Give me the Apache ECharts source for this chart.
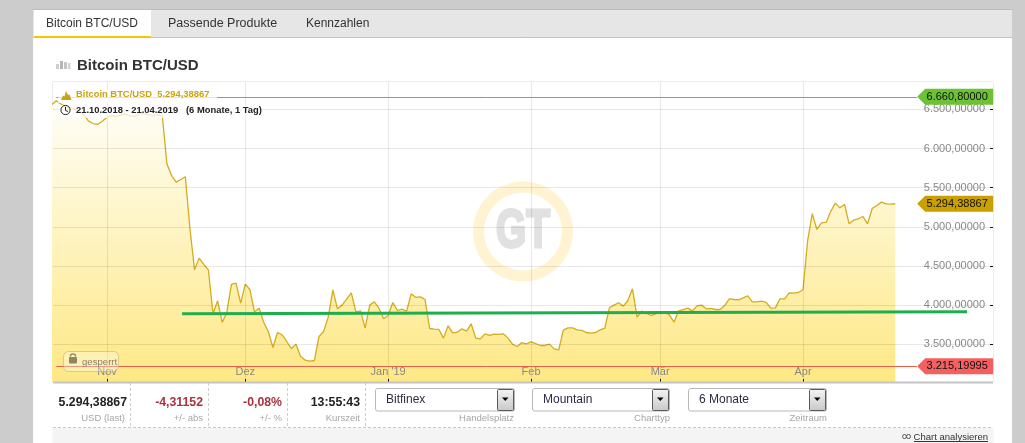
<!DOCTYPE html>
<html><head><meta charset="utf-8"><title>Bitcoin BTC/USD</title>
<script src="https://cdn.jsdelivr.net/npm/echarts@6/dist/echarts.min.js"></script>
<style>html,body{margin:0;padding:0;background:#cccccc;overflow:hidden}#c{width:1025px;height:443px}</style>
</head><body><div id="c"></div>
<script>
// ---- data -----------------------------------------------------------
const firstDay = Date.UTC(2018, 9, 20);
const btcValues = [6560,6610,6570,6540,6520,6500,6480,6430,6350,6320,6310,6350,6400,6420,6410,6430,6440,6420,6410,6440,6450,6430,6420,6430,6420,
5805,5656,5571,5605,5639,4974,4449,4599,4518,4449,3887,4053,3776,3908,4262,4279,4023,4266,4198,3912,3959,3780,3661,3456,3648,3618,3533,3443,3499,3345,3294,3281,3290,3597,3661,3844,4194,3951,3998,4074,4155,3912,3925,3703,3998,4040,3959,3823,3865,4032,3929,3946,3921,4142,4096,4104,4070,3699,
3691,3687,3576,3733,3644,3652,3695,3665,3759,3576,3567,3631,3610,3627,3623,3631,3576,3495,3469,3520,3503,3529,3507,3482,3482,3499,3439,3427,3678,3708,3708,3682,3674,3648,3640,3648,3682,3704,3964,3998,4028,3985,4057,
4206,3844,3921,3895,3865,3887,3908,3904,3874,3780,3925,3942,3959,3925,3989,3998,3951,3955,3942,3942,3993,4079,4070,4066,4091,4117,4040,4040,4049,4032,3959,3963,4079,4079,4155,4151,4160,4194,4825,5166,4965,5050,5055,5195,5302,5242,5285,5038,5085,5102,5131,5038,5234,5272,5315,5293,5289,5294];
const monthTickDates = [Date.UTC(2018,10,1),Date.UTC(2018,11,1),Date.UTC(2019,0,1),Date.UTC(2019,1,1),Date.UTC(2019,2,1),Date.UTC(2019,3,1)];
const monthTickLabels = ["Nov","Dez","Jan '19","Feb","Mär","Apr"];
const priceTicks = [3500,4000,4500,5000,5500,6000,6500];
const highValue = 6660.8, lowValue = 3215.19995, lastValue = 5294.38867;
const supportDates = [Date.UTC(2018,10,17,7), Date.UTC(2019,4,6,14)];
const supportValues = [3887, 3913];
const rangeStart = Date.UTC(2018,9,20,7), rangeEnd = Date.UTC(2019,4,12,5);
const lineStart = Date.UTC(2018,9,21), lineEnd = Date.UTC(2019,3,25,17), tagAt = Date.UTC(2019,4,4);

// ---- helpers ---------------------------------------------------------
const DAY = 86400000, FF = '"Liberation Sans", Arial, sans-serif';
const fmt = v => { const [a,b] = v.toFixed(5).split('.'); return a.replace(/\B(?=(\d{3})+$)/g,'.') + ',' + b; };
const seriesData = btcValues.map((v,i)=>[firstDay + i*DAY, v]);
const LG = (a,b)=>new echarts.graphic.LinearGradient(0,0,0,1,[{offset:0,color:a},{offset:1,color:b}]);
const monthLabel = v => { let best=0; monthTickDates.forEach((d,i)=>{ if(Math.abs(d-v)<Math.abs(monthTickDates[best]-v)) best=i; }); return monthTickLabels[best]; };
const g = [];
const R = (x,y,w,h,fill,z=-10,extra={},r=0)=>g.push({type:'rect',silent:true,z,shape:{x,y,width:w,height:h,r},style:Object.assign({fill},extra)});
const T = (text,x,y,font,fill,align='left',z=50,extra={},styleExtra={})=>g.push(Object.assign({type:'text',silent:true,z,style:Object.assign({text,x,y,font:font+' '+FF,fill,textAlign:align,textVerticalAlign:'middle'},styleExtra)},extra));
const L = (x1,y1,x2,y2,stroke,lw=1,dash=null,z=-5)=>g.push({type:'line',silent:true,z,shape:{x1,y1,x2,y2},style:{stroke,lineWidth:lw,lineDash:dash}});

// page panel
R(33,9,979,434,'#ffffff',-20);
R(33,9,979,28,'#e6e6e6',-19);
L(33,9.5,1012,9.5,'#bdbdbd',1,null,-18);
L(33,37.5,1012,37.5,'#c4c4c4',1,null,-18);
R(34,10,117,26,'#ffffff',-17);
R(34,36,117,2,'#f6c600',-17);
T('Bitcoin BTC/USD',46,24,'12px','#333333');
T('Passende Produkte',168,24,'12.5px','#333333');
T('Kennzahlen',306,24,'12px','#333333');
// title
[[56,64,3,5],[60,61,3,8],[64,62,3,7],[68,63,2.5,6]].forEach((b,i)=>R(b[0],b[1],b[2],b[3],['#cfcfcf','#b5b5b5','#c4c4c4','#d2d2d2'][i],1));
T('Bitcoin BTC/USD',77,66,'bold 15px','#333333');
// chart frame
R(53,82,940,300,'#ffffff',-15);
L(53,81.5,993,81.5,'#ececec',1,null,-4);
L(52.5,82,52.5,382,'#ececec',1,null,-4);
L(993.5,82,993.5,382,'#ececec',1,null,-4);
// watermark
g.push({type:'ring',silent:true,z:-8,shape:{cx:523,cy:231.5,r:50,r0:39},style:{fill:'#fff3d2'}});
T('GT',523,232,'bold 54px','#e1e1e1','center',-7,{scaleX:0.72,originX:523,originY:232},{stroke:'#e1e1e1',lineWidth:3});
// legend
R(58,89,159,14,'rgba(255,255,255,0.72)',60);
R(58,105,203,13,'rgba(255,255,255,0.72)',60);
g.push({type:'polygon',silent:true,z:61,shape:{points:[[61,100],[63,95.5],[64.5,96.5],[66,91],[68,95],[69.5,94.5],[71.5,100]]},style:{fill:'#c9a411'}});
T('Bitcoin BTC/USD  5.294,38867',76,94.5,'bold 9.4px','#c9a411','left',61);
g.push({type:'circle',silent:true,z:61,shape:{cx:65.5,cy:110,r:4.6},style:{fill:'none',stroke:'#222',lineWidth:1}});
L(65.5,107,65.5,110.5,'#222',1,null,61); L(65.5,110.5,68,111.5,'#222',1,null,61);
T('21.10.2018 - 21.04.2019   (6 Monate, 1 Tag)',76,110.5,'bold 9.4px','#222222','left',61);
// locked badge
R(63.5,351.5,55,20,'rgba(255,255,255,0.32)',60,{stroke:'rgba(190,175,120,0.55)',lineWidth:1},5);
R(69,357,8,6.5,'#8f8662',61,{},1);
g.push({type:'arc',silent:true,z:61,shape:{cx:73,cy:356.5,r:2.6,startAngle:Math.PI,endAngle:0},style:{fill:'none',stroke:'#8f8662',lineWidth:1.4}});
T('gesperrt',82,362.5,'9.6px','#8a826a','left',61);
// info strip
R(52.5,428,941,15,'#f4f4f4',-12);
L(53,382.5,993,382.5,'#c4c4c4',2,null,40);
L(53,427.5,993,427.5,'#c9c9c9',1,[3,2]);
[130.5,208.5,287.5,365.5].forEach(x=>L(x,383,x,427,'#cfcfcf',1,[3,2]));
[['5.294,38867',127,'#222222','USD (last)',125],['-4,31152',203,'#a8333f','+/- abs',203],['-0,08%',282,'#a8333f','+/- %',282],['13:55:43',360,'#222222','Kurszeit',360]]
 .forEach(c=>{T(c[0],c[1],402.5,'bold 12.3px',c[2],'right');T(c[3],c[4],418,'9.5px','#a6a6a6','right');});
// selects
[[375,139,'Bitfinex','Handelsplatz',514],[532,137,'Mountain','Charttyp',670],[688,138,'6 Monate','Zeitraum',827]].forEach(s=>{
  const x=s[0],w=s[1];
  R(x+.5,388.5,w,22.5,'#ffffff',1,{stroke:'#b8b8b8',lineWidth:1},2);
  g.push({type:'rect',silent:true,z:2,shape:{x:x+w-16.5,y:389.5,width:16,height:21,r:1},style:{fill:LG('#f4f4f4','#c8c8c8'),stroke:'#5a5a5a',lineWidth:1}});
  g.push({type:'polygon',silent:true,z:3,shape:{points:[[x+w-12,397.5],[x+w-5.5,397.5],[x+w-8.7,401]]},style:{fill:'#000'}});
  T(s[2],x+11,400,'12px','#2c2c44');
  T(s[3],s[4],418,'9.5px','#a6a6a6','right');
});
// link
T('Chart analysieren',988,437,'9.5px','#333333','right');
L(914,441.5,988,441.5,'#333333',1,null,50);
g.push({type:'circle',silent:true,z:5,shape:{cx:904.5,cy:436.5,r:2},style:{fill:'none',stroke:'#555',lineWidth:1}});
g.push({type:'circle',silent:true,z:5,shape:{cx:908.5,cy:436.5,r:2},style:{fill:'none',stroke:'#555',lineWidth:1}});

const tag = (value,color)=>({coord:[tagAt,value],symbol:'path://M0 8L8 0L76 0L76 16L8 16Z',symbolSize:[76,16],symbolKeepAspect:false,
  itemStyle:{color},label:{show:true,position:'inside',formatter:fmt(value),color:'#111111',fontSize:11,fontFamily:FF,offset:[2,0]}});

const chart = echarts.init(document.getElementById('c'),null,{width:1025,height:443,renderer:'canvas'});
chart.setOption({
  animation:false, backgroundColor:'transparent',
  grid:{left:53,top:82,width:940,height:300,containLabel:false},
  xAxis:{type:'value',min:rangeStart,max:rangeEnd,axisLine:{show:false},
    axisTick:{show:true,inside:true,length:3,customValues:monthTickDates,lineStyle:{color:'#111',width:1}},
    axisLabel:{show:true,inside:true,margin:5,customValues:monthTickDates,hideOverlap:false,showMinLabel:true,showMaxLabel:true,color:'#888888',fontSize:11,fontFamily:FF,
      formatter:v=>monthLabel(+v)},
    splitLine:{show:true,lineStyle:{color:'rgba(0,0,0,0.09)',width:1}}},
  yAxis:{type:'value',position:'right',min:3015,max:6851,axisLine:{show:false},
    axisTick:{show:true,inside:true,length:3,customValues:priceTicks,lineStyle:{color:'#111',width:1}},
    axisLabel:{show:true,inside:true,margin:8,customValues:priceTicks,color:'#888888',fontSize:11,fontFamily:FF,formatter:v=>fmt(+v)},
    splitLine:{show:true,lineStyle:{color:'rgba(0,0,0,0.09)',width:1}}},
  graphic:{elements:g},
  series:[
    {name:'Bitcoin BTC/USD',type:'line',data:seriesData,symbol:'none',showSymbol:false,smooth:false,z:-1,
      lineStyle:{color:'#d4ac1e',width:1.3},
      areaStyle:{color:LG('#fffef8','#fee885'),opacity:1},
      markLine:{silent:true,symbol:'none',label:{show:false},animation:false,z:8,data:[
        [{coord:[lineStart,highValue],lineStyle:{color:'#6fbb45',width:1,type:'solid'}},{coord:[lineEnd,highValue]}],
        [{coord:[lineStart,lowValue],lineStyle:{color:'#e8604c',width:1,type:'solid'}},{coord:[lineEnd,lowValue]}]]},
      markPoint:{silent:true,animation:false,z:9,data:[tag(highValue,'#6cc235'),tag(lastValue,'#c9a000'),tag(lowValue,'#f46060')]}},
    {name:'Unterstützung',type:'line',data:supportDates.map((d,i)=>[d,supportValues[i]]),symbol:'none',showSymbol:false,z:6,
      lineStyle:{color:'#1fae4e',width:3}}
  ]
});
</script></body></html>
